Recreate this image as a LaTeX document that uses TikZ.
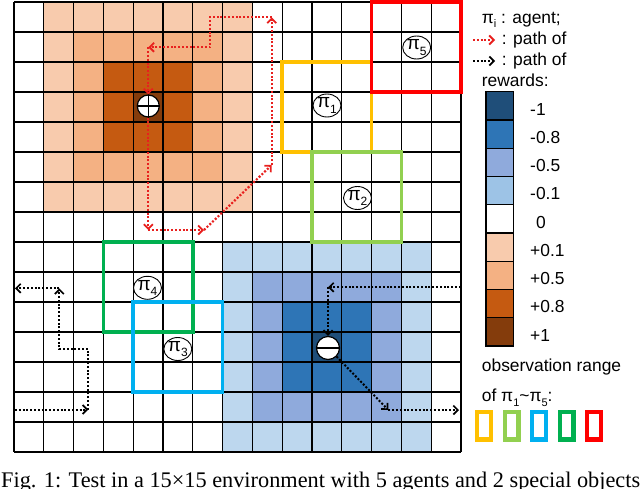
\documentclass[tikz,border=0pt]{standalone}
\usepackage{fontspec}
\setmainfont{Liberation Sans}
\newfontfamily\capfont{Liberation Serif}
\usetikzlibrary{arrows.meta,shapes.geometric}
\definecolor{ob1}{HTML}{F8CBAD}
\definecolor{ob2}{HTML}{F4B183}
\definecolor{ob3}{HTML}{C55A11}
\definecolor{ob4}{HTML}{843C0C}
\definecolor{bl1}{HTML}{1F4E79}
\definecolor{bl2}{HTML}{2E75B6}
\definecolor{bl3}{HTML}{8FAADC}
\definecolor{bl4}{HTML}{BDD7EE}
\definecolor{bl5}{HTML}{9DC3E6}
\definecolor{oyel}{HTML}{FFC000}
\definecolor{olgr}{HTML}{92D050}
\definecolor{ocya}{HTML}{00B0F0}
\definecolor{ogrn}{HTML}{00B050}
\definecolor{ored}{HTML}{FF0000}
\definecolor{pathred}{HTML}{E8201E}
\newcommand\sbs[2]{\raisebox{-0.28em}{\fontsize{#1}{#1}\selectfont #2}}
\begin{document}
\begin{tikzpicture}[x=1pt,y=-1pt,
  gridline/.style={draw=black, line width=1.3pt},
  obsbox/.style={line width=3.7pt},
  agentlab/.style={ellipse, draw=black, line width=0.9pt, fill=white, inner sep=0pt,
    minimum width=26pt, minimum height=23pt, font=\fontsize{19}{19}\selectfont},
  marker/.style={circle, draw=black, line width=1.2pt, fill=white, inner sep=0pt},
  redpath/.style={draw=pathred, line width=2.2pt, dash pattern=on 2pt off 1.8pt,
    -{Straight Barb[length=4.5pt,width=9pt,line width=1.8pt]}},
  blkpath/.style={draw=black, line width=2pt, dash pattern=on 2pt off 1.8pt,
    -{Straight Barb[length=4.5pt,width=9pt,line width=1.7pt]}},
  legtext/.style={anchor=base west, inner sep=0pt, font=\fontsize{17.4}{20}\selectfont},
  cbar/.style={draw=black, line width=1.4pt},
  smallbox/.style={line width=4.2pt}]
\useasboundingbox (0,0) rectangle (640,488);
\fill[white] (0,0) rectangle (640,488);

% ---------- grid in cell units ----------
\begin{scope}[shift={(14,2)}, x=29.8pt, y=-30pt]
  \fill[ob1] (1,0) rectangle (8,7);
  \fill[ob2] (2,1) rectangle (7,6);
  \fill[ob3] (3,2) rectangle (6,5);
  \fill[ob4] (4,3) rectangle (5,4);
  \fill[bl4] (7,8) rectangle (14,15);
  \fill[bl3] (8,9) rectangle (13,14);
  \fill[bl2] (9,10) rectangle (12,13);
  \fill[bl1] (10,11) rectangle (11,12);
  \foreach \i in {0,...,15} {
    \draw[gridline] (\i,0) -- (\i,15);
    \draw[gridline] (0,\i) -- (15,\i);
  }
  \draw[obsbox, ogrn] (3,8) rectangle (6,11);
  \draw[obsbox, ocya] (4,10) rectangle (7,13);
  \draw[obsbox, oyel] (9,2) rectangle (12,5);
  \draw[obsbox, olgr] (10,5) rectangle (13,8);
  \draw[obsbox, ored] (12,0) rectangle (15,3);
\end{scope}

% ---------- agent labels ----------
\node[agentlab] (l1) at (327,105.5) {π\sbs{12}{1}};
\node[agentlab] (l2) at (357.5,198) {π\sbs{12}{2}};
\node[agentlab] (l3) at (177.8,349) {π\sbs{12}{3}};
\node[agentlab] (l4) at (147.5,287.8) {π\sbs{12}{4}};
\node[agentlab] (l5) at (416.7,47.5) {π\sbs{12}{5}};

% ---------- special objects ----------
\node[marker, minimum size=22pt] (plus) at (148.3,106) {};
\draw[line width=1.5pt] (plus.west) -- (plus.east);
\draw[line width=1.5pt] (plus.north) -- (plus.south);
\node[marker, minimum size=23pt] (minus) at (328,348) {};
\draw[line width=2pt] (minus.west) -- (minus.east);

% ---------- red path ----------
\coordinate (r1) at (148.3,230);
\coordinate (r2) at (204,230);
\coordinate (r3) at (271.7,165);
\coordinate (r4) at (271.7,17.3);
\coordinate (r5) at (210,17.3);
\coordinate (r6) at (210,47.3);
\coordinate (r7) at (148.3,47.3);
\draw[redpath] (plus.south) -- (r1);
\draw[redpath] (r1) -- (r2);
\draw[redpath] (r2) -- (r3);
\draw[redpath] (r3) -- (r4);
\draw[redpath] (r4) -- (r5) -- (r6) -- (r7);
\draw[redpath] (r7) -- (plus.north);

% ---------- black path ----------
\coordinate (k1) at (460.7,287.3);
\coordinate (k2) at (328,287.3);
\coordinate (k3) at (388.3,410);
\coordinate (k4) at (459,410);
\coordinate (k5) at (15,409.5);
\coordinate (k6) at (88.3,409.5);
\coordinate (k7) at (88.3,349.3);
\coordinate (k8) at (59.3,349.3);
\coordinate (k9) at (59.3,288.3);
\coordinate (k10) at (15,288.3);
\draw[blkpath] (k1) -- (k2);
\draw[blkpath] (k2) -- (minus.north);
\draw[blkpath] (minus.south east) -- (k3);
\draw[blkpath] (k3) -- (k4);
\draw[blkpath] (k5) -- (k6);
\draw[blkpath] (k6) -- (k7) -- (k8) -- (k9);
\draw[blkpath] (k9) -- (k10);

% ---------- legend ----------
\node[legtext] (t1) at (481.7,23) {π\sbs{11}{i} : agent;};
\coordinate (la1) at (473,40);
\coordinate (la2) at (495,40);
\draw[redpath] (la1) -- (la2);
\node[legtext] (t2) at (501.7,44.3) {: path of};
\coordinate (lb1) at (473,61);
\coordinate (lb2) at (495,61);
\draw[blkpath] (lb1) -- (lb2);
\node[legtext] (t3) at (501.7,65.3) {: path of};
\node[legtext] (t4) at (481.7,86) {rewards:};
\foreach \c/\t/\xx [count=\n from 0] in {bl1/-1/530, bl2/-0.8/530, bl3/-0.5/530, bl5/-0.1/530, white/0/536, ob1/+0.1/530, ob2/+0.5/530, ob3/+0.8/530, ob4/+1/530} {
  \filldraw[fill=\c, cbar] (486,{91.7+28.26*\n}) rectangle (513.3,{91.7+28.26*(\n+1)});
  \node[legtext] (v\n) at (\xx,{115+28.26*\n}) {\t};
}
\node[legtext] (t5) at (481.7,371.7) {observation range};
\node[legtext] (t6) at (481.7,401.7) {of π\sbs{11}{1}\textasciitilde π\sbs{11}{5}:};
\foreach \c [count=\n from 0] in {oyel, olgr, ocya, ogrn, ored} {
  \draw[smallbox, \c] ({477.1+27.5*\n},412.1) rectangle ({490.9+27.5*\n},439.4);
}

% ---------- caption ----------
\node[anchor=base west, inner sep=0pt, font=\capfont\fontsize{22.3}{24}\selectfont] (cap) at (1,487)
  {Fig. 1: Test in a 15×15 environment with 5 agents and 2 special objects};
\end{tikzpicture}
\end{document}
